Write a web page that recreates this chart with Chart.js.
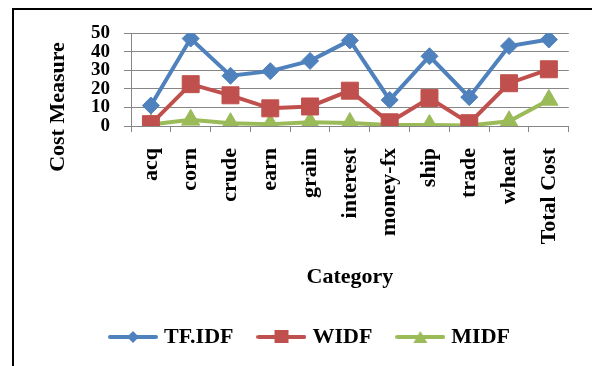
<!DOCTYPE html>
<html>
<head>
<meta charset="utf-8">
<script src="https://cdn.jsdelivr.net/npm/chart.js@4"></script>
<style>
  html, body { margin: 0; padding: 0; background: #fff; }
  #wrap { width: 592px; height: 366px; }
</style>
</head>
<body>
<div id="wrap"><canvas id="costChart"></canvas></div>
<script>
const categories = ["acq", "corn", "crude", "earn", "grain", "interest", "money-fx", "ship", "trade", "wheat", "Total Cost"];
const tfidfValues = [11, 47, 27, 29.5, 35, 46, 14, 37.5, 15.5, 43, 46.5];
const widfValues = [1, 22.5, 16.5, 9.5, 10.5, 19, 2, 15, 1.5, 23, 30.5];
const midfValues = [0.8, 3.3, 1.5, 1, 2, 1.6, 0.5, 0.5, 0.3, 2.5, 14];
const yTicks = [0, 10, 20, 30, 40, 50];

const serif = "'Liberation Serif', 'Times New Roman', serif";
const gridGrey = "#868686";

// little line + marker pictures for the legend, like excel draws them
function legendSwatch(colour, shape) {
    const c = document.createElement("canvas");
    c.width = 50;
    c.height = 18;
    const ctx = c.getContext("2d");
    ctx.strokeStyle = colour;
    ctx.fillStyle = colour;
    ctx.lineWidth = 4;
    ctx.lineCap = "round";
    ctx.beginPath();
    ctx.moveTo(2, 9);
    ctx.lineTo(48, 9);
    ctx.stroke();
    ctx.beginPath();
    if (shape === "diamond") {
        ctx.moveTo(25, 3); ctx.lineTo(31, 9); ctx.lineTo(25, 15); ctx.lineTo(19, 9);
    } else if (shape === "square") {
        ctx.rect(18, 2, 14, 13);
    } else {
        ctx.moveTo(25, 3); ctx.lineTo(32, 15); ctx.lineTo(18, 15);
    }
    ctx.closePath();
    ctx.fill();
    return c;
}

const swatches = [
    legendSwatch("#4F81BD", "diamond"),
    legendSwatch("#C0504D", "square"),
    legendSwatch("#9BBB59", "triangle")
];

// frame lines + the y title sitting lower than chart.js would put it
const framePlugin = {
    id: "frame",
    beforeDraw(chart) {
        const ctx = chart.ctx;
        ctx.save();
        ctx.fillStyle = "#fff";
        ctx.fillRect(0, 0, chart.width, chart.height);
        ctx.strokeStyle = "#000";
        ctx.lineWidth = 2;
        ctx.beginPath();
        ctx.moveTo(13, 366);
        ctx.lineTo(13, 9);
        ctx.lineTo(592, 9);
        ctx.stroke();
        ctx.restore();
    },
    afterDraw(chart) {
        const ctx = chart.ctx;
        ctx.save();
        ctx.translate(58, 107);
        ctx.rotate(-Math.PI / 2);
        ctx.font = "bold 22px " + serif;
        ctx.fillStyle = "#000";
        ctx.textAlign = "center";
        ctx.textBaseline = "middle";
        ctx.fillText("Cost Measure", 0, 0);
        ctx.restore();
    }
};

const ctx = document.getElementById("costChart").getContext("2d");
new Chart(ctx, {
    type: "line",
    data: {
        labels: categories,
        datasets: [
            {
                label: "TF.IDF",
                data: tfidfValues,
                borderColor: "#4F81BD",
                backgroundColor: "#4F81BD",
                borderWidth: 4,
                pointStyle: "rectRot",
                pointRadius: 8.5,
                pointBorderWidth: 1
            },
            {
                label: "WIDF",
                data: widfValues,
                borderColor: "#C0504D",
                backgroundColor: "#C0504D",
                borderWidth: 4,
                pointStyle: "rect",
                pointRadius: 12,
                pointBorderWidth: 1
            },
            {
                label: "MIDF",
                data: midfValues,
                borderColor: "#9BBB59",
                backgroundColor: "#9BBB59",
                borderWidth: 4,
                pointStyle: "triangle",
                pointRadius: 10.5,
                pointBorderWidth: 1
            }
        ]
    },
    options: {
        responsive: true,
        maintainAspectRatio: false,
        animation: false,
        layout: {
            padding: { top: 33, left: 47, right: 16, bottom: 8 }
        },
        scales: {
            x: {
                offset: true,
                grid: {
                    offset: true,
                    drawOnChartArea: false,
                    color: gridGrey,
                    tickLength: 6
                },
                border: { color: gridGrey, width: 1 },
                ticks: {
                    minRotation: 90,
                    maxRotation: 90,
                    autoSkip: false,
                    padding: 16,
                    color: "#000",
                    font: { family: serif, size: 22, weight: "bold" }
                },
                title: {
                    display: true,
                    text: "Category",
                    color: "#000",
                    padding: { top: 0, bottom: 7 },
                    font: { family: serif, size: 22, weight: "bold" }
                },
                afterFit: scale => { scale.height = 172; }
            },
            y: {
                min: 0,
                max: 50,
                grid: {
                    color: gridGrey,
                    tickLength: 7
                },
                border: { color: gridGrey, width: 1 },
                ticks: {
                    stepSize: 10,
                    autoSkip: false,
                    padding: 14,
                    color: "#000",
                    font: { family: serif, size: 19, weight: "bold", lineHeight: 1 },
                    callback: value => yTicks.includes(value) ? value : ""
                },
                afterFit: scale => { scale.width = 84; }
            }
        },
        plugins: {
            legend: {
                position: "bottom",
                labels: {
                    usePointStyle: true,
                    pointStyleWidth: 40,
                    padding: 28,
                    color: "#000",
                    font: { family: serif, size: 22, weight: "bold" },
                    generateLabels: chart => {
                        const items = Chart.defaults.plugins.legend.labels.generateLabels(chart);
                        items.forEach((item, i) => { item.pointStyle = swatches[i]; });
                        return items;
                    }
                }
            },
            tooltip: { enabled: false }
        }
    },
    plugins: [framePlugin]
});
</script>
</body>
</html>
